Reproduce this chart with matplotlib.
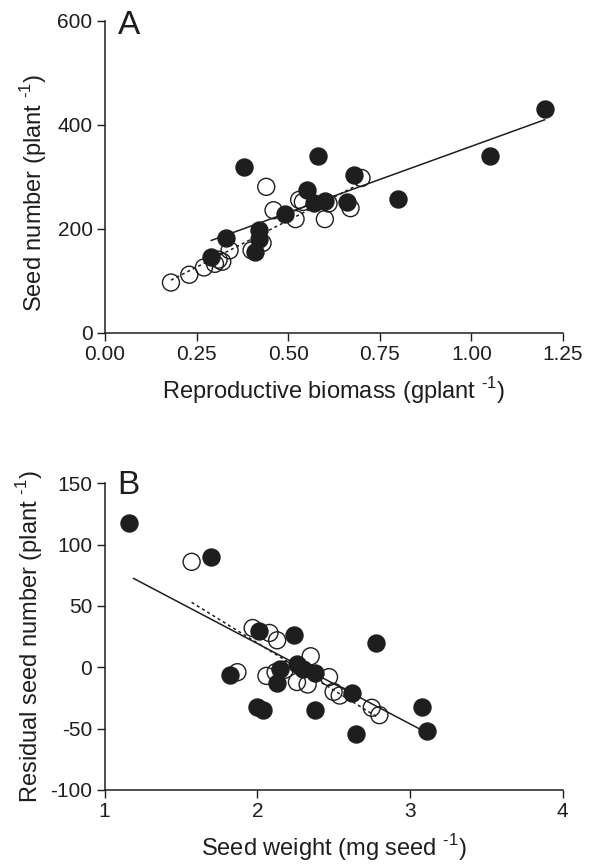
import numpy as np
import matplotlib
matplotlib.use("Agg")
import matplotlib.pyplot as plt

plt.rcParams['font.family'] = ['Liberation Sans', 'DejaVu Sans']
plt.rcParams['mathtext.fontset'] = 'custom'
plt.rcParams['mathtext.rm'] = 'Liberation Sans'
plt.rcParams['axes.unicode_minus'] = False

# ---- Panel A data ----
a_filled_x = [1.20, 1.05, 0.80, 0.68, 0.66, 0.58, 0.38, 0.55, 0.57, 0.60, 0.49, 0.42, 0.42, 0.41, 0.33, 0.29]
a_filled_y = [431, 341, 257, 304, 251, 341, 320, 275, 250, 253, 228, 198, 180, 156, 183, 146]
a_open_x = [0.18, 0.23, 0.27, 0.30, 0.31, 0.32, 0.34, 0.40, 0.43, 0.44, 0.46, 0.52, 0.53, 0.54, 0.60, 0.61, 0.67, 0.70]
a_open_y = [97, 112, 126, 133, 141, 137, 159, 159, 173, 281, 236, 219, 256, 252, 219, 249, 240, 298]
# regression lines: (x start, x end, slope, intercept)
a_solid_fit = (0.29, 1.20, 255.0, 104.0)
a_dashed_fit = (0.18, 0.69, 359.0, 37.0)
a_xticks = [0.00, 0.25, 0.50, 0.75, 1.00, 1.25]
a_xticklabels = ['0.00', '0.25', '0.50', '0.75', '1.00', '1.25']
a_yticks = [0, 200, 400, 600]

# ---- Panel B data ----
b_filled_x = [1.16, 1.70, 2.01, 2.24, 1.82, 2.15, 2.13, 2.26, 2.30, 2.38, 2.00, 2.04, 2.38, 2.62, 2.78, 2.65, 3.08, 3.11]
b_filled_y = [118, 90, 30, 26, -6, -1, -13, 3, -1, -5, -32, -35, -35, -21, 20, -54, -32, -52]
b_open_x = [1.57, 1.97, 2.08, 2.13, 1.87, 2.06, 2.12, 2.18, 2.35, 2.26, 2.33, 2.47, 2.50, 2.54, 2.75, 2.80]
b_open_y = [86, 32, 28, 22, -4, -7, -4, -2, 9, -12, -14, -8, -20, -23, -33, -39]
b_solid_fit = (1.19, 3.11, -65.5, 150.4)
b_dashed_fit = (1.57, 2.78, -76.9, 173.7)
b_xticks = [1, 2, 3, 4]
b_yticks = [-100, -50, 0, 50, 100, 150]

ink = '#1e1e1e'
tick_fs = 15
label_fs = 17
sup = '$^{\\mathregular{\u20101}}$'

fig = plt.figure(figsize=(5.92, 8.66), dpi=100)
axA = fig.add_axes([0.1774, 0.6155, 0.7736, 0.3603])
axB = fig.add_axes([0.1767, 0.0878, 0.7736, 0.3541])


def style(ax):
    for s in ['top', 'right']:
        ax.spines[s].set_visible(False)
    for s in ['left', 'bottom']:
        ax.spines[s].set_linewidth(1.1)
        ax.spines[s].set_color(ink)
    ax.tick_params(direction='out', length=6, width=1.0, colors=ink,
                   labelsize=tick_fs, pad=3)


def draw_fit(ax, fit, ls):
    x0, x1, m, b = fit
    xs = np.array([x0, x1])
    ax.plot(xs, m * xs + b, color=ink, lw=1.1, ls=ls, zorder=2)


ms = 150
for ax, ox, oy, fx, fy, sfit, dfit in [
        (axA, a_open_x, a_open_y, a_filled_x, a_filled_y, a_solid_fit, a_dashed_fit),
        (axB, b_open_x, b_open_y, b_filled_x, b_filled_y, b_solid_fit, b_dashed_fit)]:
    style(ax)
    draw_fit(ax, sfit, '-')
    draw_fit(ax, dfit, (0, (2.0, 2.0)))
    ax.scatter(ox, oy, s=ms, facecolors='none', edgecolors=ink, linewidths=1.0, zorder=3)
    ax.scatter(fx, fy, s=ms, facecolors=ink, edgecolors=ink, linewidths=1.0, zorder=4)

axA.set_xlim(0, 1.25)
axA.set_ylim(0, 600)
axA.set_xticks(a_xticks)
axA.set_xticklabels(a_xticklabels)
axA.set_yticks(a_yticks)
axA.set_xlabel('Reproductive biomass (gplant ' + sup + ')', fontsize=label_fs, color=ink, labelpad=8)
axA.set_ylabel('Seed number (plant ' + sup + ')', fontsize=label_fs, color=ink, labelpad=6)
axA.yaxis.label.set_y(0.45)
axA.text(0.028, 1.035, 'A', transform=axA.transAxes, fontsize=24, color=ink, va='top', ha='left')

axB.set_xlim(1, 4)
axB.set_ylim(-100, 150)
axB.set_xticks(b_xticks)
axB.set_yticks(b_yticks)
axB.set_xlabel('Seed weight (mg seed ' + sup + ')', fontsize=label_fs, color=ink, labelpad=8)
axB.set_ylabel('Residual seed number (plant ' + sup + ')', fontsize=label_fs, color=ink, labelpad=4)
axB.text(0.028, 1.045, 'B', transform=axB.transAxes, fontsize=24, color=ink, va='top', ha='left')

for ax in (axA, axB):
    for sp in ax.spines.values():
        sp.set_zorder(5)

fig.savefig('out.png', dpi=100)
